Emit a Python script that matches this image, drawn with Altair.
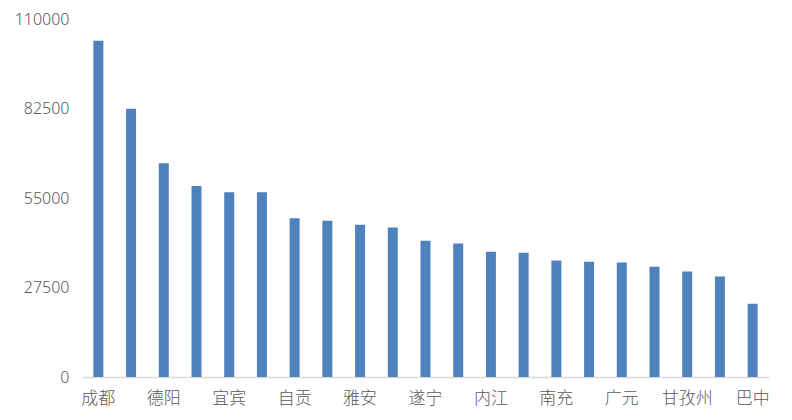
import altair as alt
import pandas as pd

cities = ["成都", "绵阳", "德阳", "攀枝花", "宜宾", "乐山", "自贡", "泸州", "雅安", "眉山",
          "遂宁", "资阳", "内江", "达州", "南充", "广安", "广元", "凉山州", "甘孜州", "阿坝州", "巴中"]
values = [103300, 82400, 65700, 58700, 56800, 56800, 48800, 48000, 46800, 45900,
          41900, 41000, 38500, 38200, 35800, 35450, 35150, 33900, 32400, 30900, 22500]
shown_labels = ["成都", "德阳", "宜宾", "自贡", "雅安", "遂宁", "内江", "南充", "广元", "甘孜州", "巴中"]
y_ticks = [0, 27500, 55000, 82500, 110000]

df = pd.DataFrame({"city": cities, "value": values})

font = "Noto Sans CJK SC"

chart = alt.Chart(df).mark_bar(size=10, color="#4F81BD").encode(
    x=alt.X("city:N", sort=cities, title=None,
            scale=alt.Scale(paddingInner=0, paddingOuter=0),
            axis=alt.Axis(values=shown_labels, labelAngle=0, ticks=False,
                          domainColor="#D9D9D9", domainWidth=1.5,
                          labelColor="#595959", labelFont=font, labelFontSize=17,
                          labelFontWeight=300, labelPadding=13)),
    y=alt.Y("value:Q", title=None,
            scale=alt.Scale(domain=[0, 110000], nice=False),
            axis=alt.Axis(values=y_ticks, grid=False, domain=False, ticks=False,
                          labelColor="#595959", labelFont="Noto Sans", labelFontSize=16,
                          labelFontWeight=300, labelPadding=13, format="d")),
).properties(
    width=687, height=358,
    autosize=alt.AutoSizeParams(type="none"),
    padding={"left": 74, "top": 11, "right": 15, "bottom": 35},
).configure_view(stroke=None)

chart.save("out.html", embed_options={"renderer": "svg", "actions": False})
